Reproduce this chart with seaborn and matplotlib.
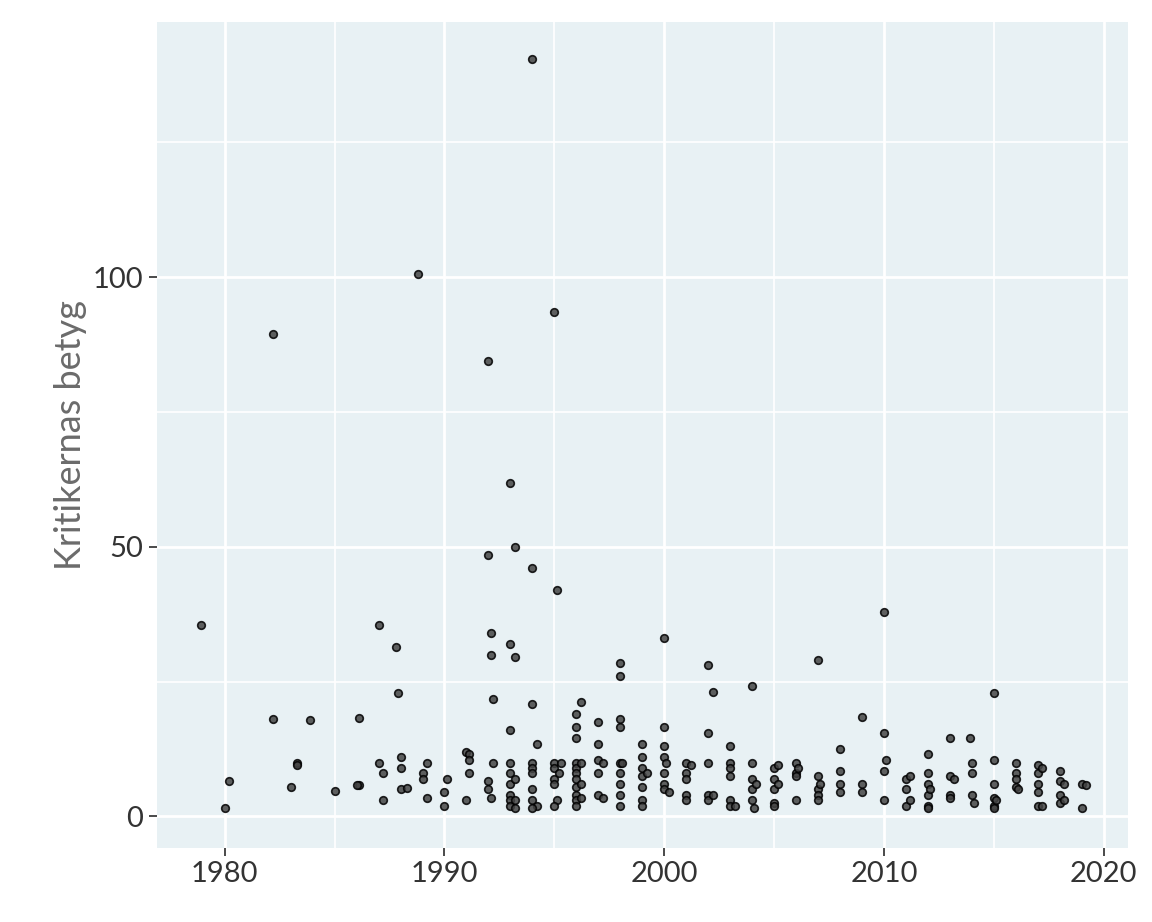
import matplotlib
matplotlib.use("Agg")
import matplotlib.pyplot as plt
import seaborn as sns
import pandas as pd
from matplotlib.ticker import MultipleLocator

years = [1978.9,1980,1980.2,1982.2,1982.2,1983,1983.3,1983.3,1983.9,1985,1986.1,1986.1,1986,1987,1987.0,1987.2,1987.2,1987.8,1987.9,1988,1988,1988,1988.3,1988.8,1989,1989.2,1989,1989.2,1990,1990,1990.1,1991,1991.1,1991.1,1991,1991.1,1992,1992,1992.1,1992.1,1992.2,1992.2,1992,1992.1,1992,1993,1993.2,1993.2,1993,1993,1993,1993,1993,1993,1993,1993,1993.2,1993.2,1993.2,1994,1994,1994,1994.2,1994,1994,1994,1994,1994,1994.2,1994,1995,1995.1,1995,1995,1995,1995,1995.1,1995,1995.2,1995.3,1996,1996,1996,1996,1996,1996,1996,1996,1996,1996,1996,1996.2,1996.2,1996.2,1996.2,1997,1997,1997,1997,1997,1997.2,1997.2,1998,1998,1998,1998,1998,1998,1998,1998,1998,1998.1,1999,1999,1999,1999,1999,1999,1999,1999.2,2000,2000,2000,2000,2000,2000,2000,2000.2,2000.1,2001,2001,2001,2001,2001,2001.2,2002,2002.2,2002,2002,2002,2002,2002.2,2003,2003,2003,2003,2003,2003,2003.2,2004,2004,2004,2004,2004,2004.1,2004.2,2005,2005,2005,2005,2005,2005.2,2005.2,2006,2006,2006,2006.1,2006,2007,2007,2007,2007,2007,2007.1,2008,2008,2008,2008,2009,2009,2009,2010,2010,2010,2010,2010.1,2011,2011,2011,2011.2,2011.2,2012,2012,2012,2012,2012,2012,2012.1,2013,2013,2013,2013.2,2013,2013.9,2014,2014,2014,2014.1,2015,2015,2015,2015,2015,2015,2015.1,2016,2016,2016,2016,2016.1,2017,2017,2017,2017,2017,2017.2,2017.2,2018,2018,2018,2018,2018.2,2018.2,2019,2019,2019.2]
scores = [35.5,1.5,6.5,89.5,18,5.5,10,9.5,17.8,4.8,18.3,5.8,5.8,35.5,10,8,3,31.5,22.8,11,9,5,5.2,100.5,8,10,7,3.5,4.5,2,7,12,11.5,8,3,10.5,84.5,48.5,34,30,21.8,10,6.5,3.5,5,61.8,50,29.5,32,16,10,8,6,4,3,2,1.5,7,3,140.5,46,20.8,13.5,10,9,8,5,3,2,1.5,93.5,42,10,9,7,6,3,2,8,10,19,16.5,14.5,10,9,8,7,5.5,4,3,2,21.2,10,6,3.5,17.5,13.5,10.5,8,4,10,3.5,28.5,26,18,16.5,10,8,6,4,2,10,13.5,11,9,7.5,5.5,3,2,8,33,16.5,13,11,8,6,5,4.5,10,10,8,7,4,3,9.5,28,23,15.5,10,4,3,4,13,10,9,7.5,3,2,2,24.2,10,7,5,3,1.5,6,9,7,5,2.5,2,9.5,6,10,8,7.5,9,3,29,7.5,5,4,3,6,12.5,8.5,6,4.5,18.5,6,4.5,38,15.5,8.5,3,10.5,7,5,2,7.5,3,11.5,8,6,4,2,1.5,5,14.5,7.5,4,7,3.5,14.5,10,8,4,2.5,22.8,10.5,6,3.5,2,1.5,3,10,8,7,5.5,5,9.5,8,6,4.5,2,9,2,8.5,6.5,4,2.5,6,3,6,1.5,5.8]

df = pd.DataFrame({"year": years, "score": scores})

sns.set_theme(style="darkgrid")
plt.rcParams['font.family'] = ['Lato', 'DejaVu Sans']
fig = plt.figure(figsize=(11.52, 9.22), dpi=100)
ax = fig.add_axes([0.136, 0.080, 0.843, 0.896])
ax.set_facecolor("#e8f1f4")
sns.scatterplot(data=df, x="year", y="score", ax=ax, s=30, color="#444444",
                edgecolor="black", linewidth=1.2, alpha=0.85)
ax.set_xlim(1976.9, 2021.1)
ax.set_ylim(-5.9, 147.3)
ax.set_xticks([1980, 1990, 2000, 2010, 2020])
ax.set_yticks([0, 50, 100])
ax.xaxis.set_minor_locator(MultipleLocator(5))
ax.yaxis.set_minor_locator(MultipleLocator(25))
ax.grid(which="major", color="white", linewidth=2)
ax.grid(which="minor", color="white", linewidth=1.2)
for s in ax.spines.values():
    s.set_visible(False)
ax.set_xlabel("")
ax.set_ylabel("Kritikernas betyg", fontsize=26, color="#6b6b6b")
ax.tick_params(axis="both", which="major", labelsize=21, labelcolor="#333333",
               length=6, color="#333333", left=True, bottom=True)
fig.savefig("out.png", dpi=100)
